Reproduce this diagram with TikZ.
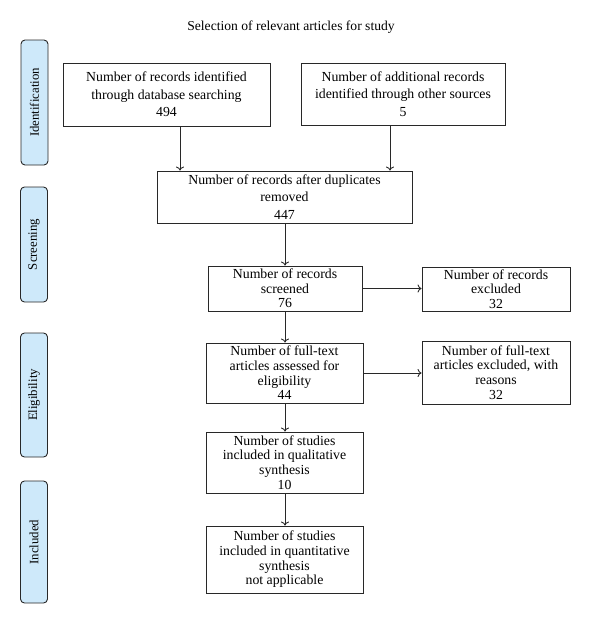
\documentclass[tikz,border=0pt]{standalone}
\usepackage{fontspec}
\setmainfont{Liberation Serif}
\usetikzlibrary{arrows.meta}
\definecolor{sidefill}{RGB}{206,233,250}
\definecolor{edge}{RGB}{40,40,40}
\begin{document}
\begin{tikzpicture}[x=1pt,y=-1pt,
  box/.style={draw=edge, line width=0.9pt, align=center, inner sep=0pt,
    font=\fontsize{13.8}{14.6}\selectfont},
  wide/.style={font=\fontsize{13.8}{17.5}\selectfont},
  side/.style={draw=edge, line width=0.9pt, fill=sidefill, rounded corners=4pt,
    minimum height=27pt, inner sep=0pt, rotate=90,
    font=\fontsize{12.8}{14}\selectfont},
  arr/.style={draw=edge, line width=0.9pt, -{To[length=4pt,width=8pt]}}]
\useasboundingbox (0,0) rectangle (600,627);

\node[font=\fontsize{13.6}{15}\selectfont] (title) at (291,27) {Selection of relevant articles for study};

\node[side, minimum width=125pt] (s1) at (34.5,102.5) {Identification};
\node[side, minimum width=115pt] (s2) at (34,244.5) {Screening};
\node[side, minimum width=124pt] (s3) at (34,395) {Eligibility};
\node[side, minimum width=122pt] (s4) at (34,542) {Included};

\node[box, wide, minimum width=207pt, minimum height=63pt] (b1) at (166.5,94.5)
  {Number of records identified\\through database searching\\494};
\node[box, wide, minimum width=204pt, minimum height=62pt] (b2) at (403,94)
  {Number of additional records\\identified through other sources\\5};
\node[box, wide, minimum width=255pt, minimum height=52pt] (b3) at (284.5,197)
  {Number of records after duplicates\\removed\\447};
\node[box, minimum width=154pt, minimum height=45pt] (b4) at (285,288.5)
  {Number of records\\screened\\76};
\node[box, minimum width=148pt, minimum height=44pt] (b5) at (496,289)
  {Number of records\\excluded\\32};
\node[box, minimum width=157pt, minimum height=60pt] (b6) at (284.5,373)
  {Number of full-text\\articles assessed for\\eligibility\\44};
\node[box, minimum width=148pt, minimum height=63pt] (b7) at (496,372.5)
  {Number of full-text\\articles excluded, with\\reasons\\32};
\node[box, minimum width=157pt, minimum height=61pt] (b8) at (284.5,462.5)
  {Number of studies\\included in qualitative\\synthesis\\10};
\node[box, minimum width=157pt, minimum height=67pt] (b9) at (284.5,559.5)
  {Number of studies\\included in quantitative\\synthesis\\not applicable};

\coordinate (a1) at (180,0);
\coordinate (a2) at (390,0);
\coordinate (a3) at (285,0);
\draw[arr] (b1.south -| a1) -- (b3.north -| a1);
\draw[arr] (b2.south -| a2) -- (b3.north -| a2);
\draw[arr] (b3.south -| a3) -- (b4.north -| a3);
\draw[arr] (b4.east) -- (b5.west |- b4.east);
\draw[arr] (b4.south -| a3) -- (b6.north -| a3);
\draw[arr] (b6.east) -- (b7.west |- b6.east);
\draw[arr] (b6.south -| a3) -- (b8.north -| a3);
\draw[arr] (b8.south -| a3) -- (b9.north -| a3);
\end{tikzpicture}
\end{document}
